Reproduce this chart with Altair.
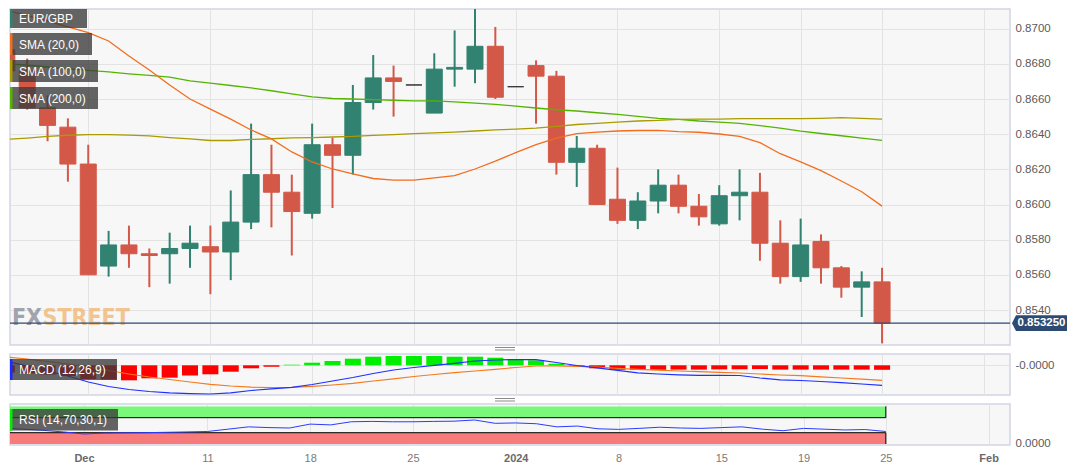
import json

import altair as alt
import numpy as np
import pandas as pd

# EUR/GBP daily candles
dates = [
    "2023-11-27", "2023-11-28", "2023-11-29", "2023-11-30", "2023-12-01",
    "2023-12-04", "2023-12-05", "2023-12-06", "2023-12-07", "2023-12-08",
    "2023-12-11", "2023-12-12", "2023-12-13", "2023-12-14", "2023-12-15",
    "2023-12-18", "2023-12-19", "2023-12-20", "2023-12-21", "2023-12-22",
    "2023-12-25", "2023-12-26", "2023-12-27", "2023-12-28", "2023-12-29",
    "2024-01-01", "2024-01-02", "2024-01-03", "2024-01-04", "2024-01-05",
    "2024-01-08", "2024-01-09", "2024-01-10", "2024-01-11", "2024-01-12",
    "2024-01-15", "2024-01-16", "2024-01-17", "2024-01-18", "2024-01-19",
    "2024-01-22", "2024-01-23", "2024-01-24", "2024-01-25",
]
opens = [
    0.8688, 0.8676, 0.8655, 0.8644, 0.8623,
    0.8565, 0.8577, 0.8572, 0.8572, 0.8575,
    0.8576, 0.8573, 0.8590, 0.8617, 0.8607,
    0.8595, 0.8634, 0.8628, 0.8658, 0.8672,
    0.8668, 0.8652, 0.8677, 0.8677, 0.8690,
    0.8667, 0.8679, 0.8673, 0.8624, 0.8632,
    0.8603, 0.8591, 0.8602, 0.8611, 0.8599,
    0.8589, 0.8605, 0.8607, 0.8578, 0.8559,
    0.8579, 0.8564, 0.8553, 0.8556,
]
highs = [
    0.8693, 0.8683, 0.8662, 0.8649, 0.8634,
    0.8585, 0.8588, 0.8575, 0.8584, 0.8588,
    0.8588, 0.8608, 0.8646, 0.8634, 0.8617,
    0.8646, 0.8638, 0.8668, 0.8685, 0.8679,
    0.8668, 0.8686, 0.8699, 0.8714, 0.8701,
    0.8667, 0.8682, 0.8676, 0.8639, 0.8634,
    0.8621, 0.8607, 0.8620, 0.8617, 0.8606,
    0.8611, 0.8620, 0.8618, 0.8591, 0.8592,
    0.8583, 0.8565, 0.8562, 0.8564,
]
lows = [
    0.8672, 0.8654, 0.8636, 0.8613, 0.8560,
    0.8559, 0.8564, 0.8553, 0.8555, 0.8564,
    0.8549, 0.8557, 0.8586, 0.8587, 0.8571,
    0.8592, 0.8598, 0.8617, 0.8654, 0.8650,
    0.8668, 0.8652, 0.8667, 0.8669, 0.8660,
    0.8667, 0.8646, 0.8617, 0.8610, 0.8600,
    0.8589, 0.8586, 0.8595, 0.8595, 0.8588,
    0.8588, 0.8591, 0.8568, 0.8555, 0.8556,
    0.8555, 0.8547, 0.8536, 0.8521,
]
closes = [
    0.8676, 0.8655, 0.8645, 0.8623, 0.8560,
    0.8577, 0.8572, 0.8571, 0.8575, 0.8578,
    0.8573, 0.8590, 0.8617, 0.8607, 0.8596,
    0.8634, 0.8628, 0.8658, 0.8672, 0.8670,
    0.8668, 0.8677, 0.8678, 0.8690, 0.8661,
    0.8667, 0.8673, 0.8624, 0.8632, 0.8600,
    0.8591, 0.8602, 0.8611, 0.8599, 0.8593,
    0.8605, 0.8607, 0.8578, 0.8559, 0.8577,
    0.8564, 0.8553, 0.8556, 0.85325,
]
sma20 = [
    0.87105, 0.87075, 0.87044, 0.87010, 0.86978,
    0.86930, 0.86845, 0.86765, 0.86680, 0.86600,
    0.86543, 0.86486, 0.86424, 0.86373, 0.86299,
    0.86242, 0.86202, 0.86174, 0.86148, 0.86139,
    0.86139, 0.86151, 0.86164, 0.86202, 0.86247,
    0.86295, 0.86341, 0.86377, 0.86403, 0.86412,
    0.86418, 0.86421, 0.86422, 0.86415, 0.86411,
    0.86401, 0.86388, 0.86352, 0.86289, 0.86242,
    0.86193, 0.86134, 0.86073, 0.85991,
]
sma100 = [
    0.86371, 0.86378, 0.86387, 0.86394, 0.86398,
    0.86398, 0.86395, 0.86390, 0.86381, 0.86373,
    0.86364, 0.86364, 0.86370, 0.86374, 0.86379,
    0.86381, 0.86384, 0.86387, 0.86393, 0.86398,
    0.86403, 0.86407, 0.86412, 0.86418, 0.86425,
    0.86429, 0.86435, 0.86444, 0.86455, 0.86462,
    0.86469, 0.86475, 0.86478, 0.86484, 0.86486,
    0.86486, 0.86488, 0.86488, 0.86488, 0.86488,
    0.86490, 0.86494, 0.86490, 0.86486,
]
sma200 = [
    0.86801, 0.86792, 0.86782, 0.86772, 0.86763,
    0.86754, 0.86743, 0.86734, 0.86724, 0.86703,
    0.86691, 0.86677, 0.86663, 0.86647, 0.86629,
    0.86612, 0.86603, 0.86600, 0.86596, 0.86593,
    0.86590, 0.86589, 0.86584, 0.86577, 0.86569,
    0.86560, 0.86549, 0.86539, 0.86532, 0.86522,
    0.86513, 0.86501, 0.86490, 0.86484, 0.86475,
    0.86469, 0.86462, 0.86449, 0.86435, 0.86418,
    0.86404, 0.86391, 0.86378, 0.86365,
]
macd_line = [
    0.000076, -0.000014, -0.000114, -0.000214, -0.000334,
    -0.000424, -0.000484, -0.000524, -0.000550, -0.000566,
    -0.000574, -0.000550, -0.000504, -0.000470, -0.000440,
    -0.000384, -0.000314, -0.000244, -0.000164, -0.000094,
    -0.000044, 0.000000, 0.000040, 0.000086, 0.000106,
    0.000116, 0.000112, 0.000056, -0.000004, -0.000050,
    -0.000100, -0.000150, -0.000174, -0.000190, -0.000200,
    -0.000200, -0.000204, -0.000254, -0.000290, -0.000304,
    -0.000324, -0.000348, -0.000374, -0.000400,
]
macd_signal = [
    0.000166, 0.000126, 0.000076, 0.000026, -0.000034,
    -0.000104, -0.000174, -0.000234, -0.000284, -0.000334,
    -0.000380, -0.000414, -0.000438, -0.000446, -0.000442,
    -0.000422, -0.000394, -0.000360, -0.000314, -0.000270,
    -0.000224, -0.000184, -0.000148, -0.000114, -0.000080,
    -0.000044, -0.000014, -0.000010, -0.000020, -0.000034,
    -0.000060, -0.000080, -0.000098, -0.000114, -0.000126,
    -0.000140, -0.000154, -0.000174, -0.000194, -0.000206,
    -0.000230, -0.000254, -0.000278, -0.000300,
]
macd_hist = [
    -0.000144, -0.000164, -0.000184, -0.000214, -0.000274,
    -0.000284, -0.000300, -0.000260, -0.000248, -0.000204,
    -0.000180, -0.000128, -0.000060, -0.000028, 0.000012,
    0.000052, 0.000086, 0.000132, 0.000172, 0.000186,
    0.000186, 0.000186, 0.000172, 0.000172, 0.000152,
    0.000112, 0.000100, 0.000032, -0.000010, -0.000060,
    -0.000090, -0.000090, -0.000090, -0.000086, -0.000086,
    -0.000082, -0.000080, -0.000076, -0.000086, -0.000086,
    -0.000086, -0.000086, -0.000086, -0.000090,
]
rsi = [
    42.5, 39.4, 36.3, 32.1, 26.5,
    29.0, 29.6, 30.1, 31.1, 32.1,
    33.2, 39.4, 45.6, 43.6, 42.5,
    52.9, 50.8, 59.1, 60.1, 59.1,
    59.1, 60.1, 60.7, 63.8, 55.0,
    56.0, 53.9, 45.6, 47.7, 40.4,
    38.9, 41.5, 44.6, 42.5, 41.5,
    43.6, 45.6, 39.4, 35.3, 41.5,
    39.4, 37.3, 38.4, 33.2,
]
last_price = 0.85325
rsi_upper, rsi_lower = 70, 30

tick_dates = ["2023-12-01", "2023-12-11", "2023-12-18", "2023-12-25", "2024-01-01",
              "2024-01-08", "2024-01-15", "2024-01-19", "2024-01-25", "2024-02-01"]
tick_labels = ["Dec", "11", "18", "25", "2024", "8", "15", "19", "25", "Feb"]
bold_labels = ["Dec", "2024", "Feb"]
price_ticks = [0.8540, 0.8560, 0.8580, 0.8600, 0.8620, 0.8640, 0.8660, 0.8680, 0.8700]

# colours
UP, DOWN, FLAT = "#318270", "#d45848", "#333333"
C20, C100, C200 = "#f26d1d", "#a99b00", "#55b400"
NAVY = "#2d4a73"
FONT = "Liberation Sans, Arial, sans-serif"
WM_FONT = "Liberation Sans Narrow, DejaVu Sans Condensed, Liberation Sans, sans-serif"

# trading-day index (weekends skipped, like the chart's time axis)
idx = np.busday_count(dates[0], dates).tolist()
tick_idx = np.busday_count(dates[0], tick_dates).tolist()
bold_idx = [t for t, l in zip(tick_idx, tick_labels) if l in bold_labels]

df = pd.DataFrame({
    "i": idx, "date": dates, "open": opens, "high": highs, "low": lows, "close": closes,
    "sma20": sma20, "sma100": sma100, "sma200": sma200,
    "macd": macd_line, "signal": macd_signal, "hist": macd_hist, "rsi": rsi,
})
df["dir"] = np.where(df["close"] > df["open"], "up", np.where(df["close"] < df["open"], "down", "flat"))

W = 1000
xscale = alt.Scale(domain=[0.401, 49.04], nice=False, zero=False)
label_expr = f"{json.dumps(tick_labels)}[indexof({json.dumps(tick_idx)}, datum.value)]"
bold_test = f"indexof({json.dumps(bold_idx)}, datum.value) >= 0"


def xq(field, labels=False):
    if labels:
        ax = alt.Axis(values=tick_idx, grid=True, title=None, labelExpr=label_expr,
                      labelPadding=7, labelFontSize=11,
                      labelColor={"condition": {"test": bold_test, "value": "#6a6a6a"}, "value": "#7a7a7a"},
                      labelFontWeight={"condition": {"test": bold_test, "value": "bold"}, "value": "normal"})
    else:
        ax = alt.Axis(values=tick_idx, grid=True, labels=False, title=None)
    return alt.X(field, type="quantitative", scale=xscale, axis=ax)


price_scale = alt.Scale(domain=[0.85201, 0.87112], nice=False, zero=False)
price_axis = alt.Axis(orient="right", values=price_ticks, format=".4f", title=None, labelPadding=5)


def yp(field):
    return alt.Y(field, type="quantitative", scale=price_scale, axis=price_axis)


dir_scale = alt.Scale(domain=["up", "down", "flat"], range=[UP, DOWN, FLAT])
one = pd.DataFrame({"k": [0]})


def legend_box(label, stripe, x1, y0, y1):
    box = alt.Chart(one).mark_rect(color="#3a3a3a", opacity=0.78).encode(
        x=alt.value(0), x2=alt.value(x1), y=alt.value(y0), y2=alt.value(y1))
    bar = alt.Chart(one).mark_rect(color=stripe).encode(
        x=alt.value(0), x2=alt.value(2.5), y=alt.value(y0), y2=alt.value(y1))
    txt = alt.Chart(one).mark_text(text=label, color="white", fontSize=12, font=FONT,
                                   align="left", baseline="middle").encode(
        x=alt.value(9), y=alt.value((y0 + y1) / 2 + 0.5))
    return [box, bar, txt]


# ---------------- main price panel ----------------
base = alt.Chart(df)
# FX | STREET split at a fixed point so the two words never collide
watermark = [
    alt.Chart(one).mark_text(text="FX", font=WM_FONT, fontWeight="bold", fontSize=23,
                             color="#8c8f9b", opacity=0.8, align="right",
                             baseline="alphabetic").encode(x=alt.value(32), y=alt.value(316)),
    alt.Chart(one).mark_text(text="STREET", font=WM_FONT, fontWeight="bold", fontSize=23,
                             color="#f1b877", opacity=0.8, align="left",
                             baseline="alphabetic").encode(x=alt.value(32.5), y=alt.value(316)),
]
wicks = base.mark_rule(strokeWidth=2, clip=True).encode(
    x=xq("i"), y=yp("low"), y2="high", color=alt.Color("dir:N", scale=dir_scale, legend=None))
bodies = base.mark_bar(size=16, orient="vertical", clip=True, strokeWidth=1).encode(
    x=xq("i"), y=yp("open"), y2="close",
    color=alt.Color("dir:N", scale=dir_scale, legend=None),
    stroke=alt.Stroke("dir:N", scale=dir_scale, legend=None))
lines = [
    base.mark_line(color=col, strokeWidth=1.3, clip=True).encode(x=xq("i"), y=yp(f))
    for f, col in [("sma200", C200), ("sma100", C100), ("sma20", C20)]
]
price_df = pd.DataFrame({"price": [last_price], "label": [f"{last_price:.6f}"]})
price_line = alt.Chart(price_df).mark_rule(color=NAVY, strokeWidth=1.2).encode(y=yp("price"))
tag = alt.Chart(price_df).mark_point(
    shape="M-1,0L-0.855,-0.285L1,-0.285L1,0.285L-0.855,0.285Z", size=3025,
    filled=True, color=NAVY, opacity=1).encode(x=alt.value(1029.5), y=yp("price"))
tag_text = alt.Chart(price_df).mark_text(color="white", fontWeight="bold", fontSize=11.5, font=FONT).encode(
    x=alt.value(1031.5), y=yp("price"), text="label:N")

legend_main = []
for k, (lab, col, w) in enumerate([("EUR/GBP", UP, 77), ("SMA (20,0)", C20, 82),
                                   ("SMA (100,0)", C100, 88), ("SMA (200,0)", C200, 88)]):
    legend_main += legend_box(lab, col, w, max(0, -3 + 27 * k), 19 + 27 * k)

main = alt.layer(*watermark, wicks, bodies, *lines, price_line, *legend_main, tag, tag_text).properties(
    width=W, height=336)

# ---------------- MACD panel ----------------
macd_scale = alt.Scale(domain=[-0.000594, 0.000226], nice=False, zero=False)
macd_axis = alt.Axis(orient="right", values=[0], labelExpr="'-0.0000'", title=None, labelPadding=5)


def ym(field):
    return alt.Y(field, type="quantitative", scale=macd_scale, axis=macd_axis)


hist = base.mark_bar(size=16, orient="vertical", clip=True).encode(
    x=xq("i"), y=ym("hist"), y2=alt.datum(0),
    color=alt.condition(alt.datum.hist >= 0, alt.value("#00ee00"), alt.value("#ff0000")))
macd_l = base.mark_line(color="#1f30ff", strokeWidth=1.2, clip=True).encode(x=xq("i"), y=ym("macd"))
sig_l = base.mark_line(color="#f47a1f", strokeWidth=1.2, clip=True).encode(x=xq("i"), y=ym("signal"))


def handle(y):
    return [alt.Chart(one).mark_rule(color="#8a8a8a", strokeWidth=1).encode(
        x=alt.value(485), x2=alt.value(505), y=alt.value(y + d)) for d in (0, 2.5)]


macd = alt.layer(hist, sig_l, macd_l, *legend_box("MACD (12,26,9)", "#1a2bff", 107, 5, 26),
                 *handle(-6.5)).properties(width=W, height=41)

# ---------------- RSI panel ----------------
rsi_scale = alt.Scale(domain=[-2.7, 106.4], nice=False, zero=False)
rsi_axis = alt.Axis(orient="right", values=[0], format=".4f", grid=False, title=None, labelPadding=5)


def yr(field):
    return alt.Y(field, type="quantitative", scale=rsi_scale, axis=rsi_axis)


bands = pd.DataFrame({"x0": [idx[0]] * 2, "x1": [idx[-1]] * 2,
                      "lo": [rsi_upper, 0], "hi": [100, rsi_lower],
                      "level": [rsi_upper, rsi_lower]})
band_ob = alt.Chart(bands.iloc[[0]]).mark_rect(color="#79f879", clip=True).encode(
    x=xq("x0", True), x2="x1", y=yr("lo"), y2="hi")
band_os = alt.Chart(bands.iloc[[1]]).mark_rect(color="#f87b7b", clip=True).encode(
    x=xq("x0", True), x2="x1", y=yr("lo"), y2="hi")
band_lvl = alt.Chart(bands).mark_rule(color="black", strokeWidth=1, clip=True).encode(
    x=xq("x0", True), x2="x1", y=yr("level"))
band_end = alt.Chart(bands).mark_rule(color="black", strokeWidth=1, clip=True).encode(
    x=xq("x1", True), y=yr("lo"), y2="hi")
rsi_l = base.mark_line(color="#2a3cff", strokeWidth=1, clip=True).encode(x=xq("i", True), y=yr("rsi"))

rsi_panel = alt.layer(band_ob, band_os, band_lvl, band_end, rsi_l,
                      *legend_box("RSI (14,70,30,1)", "#00ee00", 108, 5, 26.5),
                      *handle(-5.5)).properties(width=W, height=41)

chart = alt.vconcat(main, macd, rsi_panel, spacing=9, bounds="flush").properties(
    padding=0, background="white"
).configure_view(
    fill="#f7f7f7", stroke="#d2d6e4", strokeWidth=1.5
).configure_axis(
    labelFont=FONT, labelFontSize=11.5, labelColor="#5a5a5a", gridColor="#e3e3e3",
    domain=False, ticks=False, labelFlush=False, labelOverlap=False
)

chart.save("out.html", embed_options={"renderer": "svg", "actions": False})
